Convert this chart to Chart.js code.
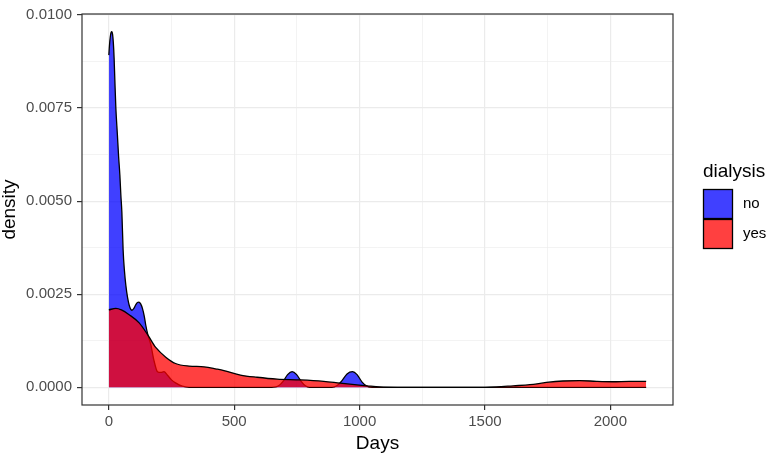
<!DOCTYPE html>
<html>
<head>
<meta charset="utf-8">
<script src="https://cdn.jsdelivr.net/npm/chart.js@4.4.1/dist/chart.umd.min.js"></script>
<style>
  html, body { margin: 0; padding: 0; background: #ffffff; }
  #wrap { width: 767px; height: 454px; position: relative; }
</style>
</head>
<body>
<div id="wrap"><canvas id="c" width="767" height="454"></canvas></div>
<script>
// ---- Data ----
const seriesLabels = ["no", "yes"];
const legendTitle = "dialysis";
const xTitle = "Days";
const yTitle = "density";

const noDays = [0, 3, 6, 9, 12, 15, 18, 21, 24, 28, 34, 39, 44, 48, 52, 57, 62, 68, 75, 81, 87, 92, 100, 107, 114, 120, 127, 134, 141, 147, 156, 167, 180, 194, 207, 220, 233, 250, 266, 293, 320, 400, 500, 600, 650, 665, 677, 695, 713, 731, 749, 767, 784, 800, 890, 909, 930, 950, 972, 990, 1010, 1029, 1050, 1200, 1500, 1800, 2143];
const noDensity = [0.00892, 0.00922, 0.00942, 0.00953, 0.00955, 0.00948, 0.00925, 0.00885, 0.00825, 0.00750, 0.00680, 0.00620, 0.00570, 0.00516, 0.00470, 0.00369, 0.00315, 0.00273, 0.00240, 0.00221, 0.00210, 0.00207, 0.00212, 0.00221, 0.00228, 0.00229, 0.00224, 0.00212, 0.00192, 0.00168, 0.00140, 0.00116, 0.00072, 0.00042, 0.00040, 0.00042, 0.00033, 0.00020, 0.00012, 0.00003, 0.00000, 0.00000, 0.00000, 0.00000, 0.00000, 0.00001, 0.00004, 0.00016, 0.00034, 0.00042, 0.00034, 0.00016, 0.00004, 0.00000, 0.00000, 0.00004, 0.00018, 0.00036, 0.00042, 0.00034, 0.00014, 0.00003, 0.00000, 0.00000, 0.00000, 0.00000, 0.00000];

const yesDays = [0, 28, 50, 81, 121, 156, 187, 227, 266, 320, 380, 430, 459, 525, 591, 671, 764, 857, 923, 980, 1029, 1080, 1150, 1300, 1500, 1546, 1613, 1679, 1745, 1811, 1878, 1945, 2010, 2076, 2143];
const yesDensity = [0.00208, 0.00212, 0.00208, 0.00195, 0.00173, 0.00140, 0.00107, 0.00081, 0.00064, 0.00057, 0.00055, 0.00049, 0.00045, 0.00033, 0.00027, 0.00022, 0.00020, 0.00016, 0.00011, 0.00007, 0.00004, 0.00001, 0.00000, 0.00000, 0.00000, 0.00001, 0.00004, 0.00007, 0.00013, 0.00017, 0.00018, 0.00016, 0.00015, 0.00016, 0.00016];

const xTickValues = [0, 250, 500, 750, 1000, 1250, 1500, 1750, 2000];
const xMajorTicks = [0, 500, 1000, 1500, 2000];
const yTickValues = [0, 0.00125, 0.0025, 0.00375, 0.005, 0.00625, 0.0075, 0.00875, 0.01];
const yMajorTicks = [0, 0.0025, 0.005, 0.0075, 0.01];

// ---- Styling ----
const fillColors = ["rgba(0,0,255,0.75)", "rgba(255,0,0,0.75)"];
const FONT = "'Liberation Sans', Arial, sans-serif";
const isMajor = (v, majors) => majors.some(m => Math.abs(m - v) < 1e-9);

const toPoints = (xs, ys) => xs.map((x, i) => ({ x: x, y: ys[i] }));

const panelLegend = {
  id: 'panelLegend',
  afterDraw(chart) {
    const { ctx, chartArea: a } = chart;
    ctx.save();
    ctx.strokeStyle = '#333333';
    ctx.lineWidth = 1.2;
    ctx.strokeRect(a.left, a.top, a.right - a.left, a.bottom - a.top);

    // legend
    ctx.fillStyle = '#000000';
    ctx.font = '19px ' + FONT;
    ctx.textAlign = 'left';
    ctx.textBaseline = 'alphabetic';
    ctx.fillText(legendTitle, 703, 177);
    const boxX = 703.5, boxY0 = 189.5, box = 29;
    seriesLabels.forEach((lab, i) => {
      const by = boxY0 + i * (box + 1);
      ctx.fillStyle = fillColors[i];
      ctx.fillRect(boxX, by, box, box);
      ctx.strokeStyle = '#000000';
      ctx.lineWidth = 1.3;
      ctx.strokeRect(boxX, by, box, box);
      ctx.fillStyle = '#000000';
      ctx.font = '15px ' + FONT;
      ctx.textBaseline = 'middle';
      ctx.fillText(lab, 743, by + box / 2);
    });
    ctx.restore();
  }
};

new Chart(document.getElementById('c'), {
  type: 'line',
  data: {
    datasets: [
      {
        label: seriesLabels[0],
        data: toPoints(noDays, noDensity),
        borderColor: '#000000',
        borderWidth: 1.3,
        backgroundColor: fillColors[0],
        fill: 'origin',
        pointRadius: 0,
        cubicInterpolationMode: 'monotone',
        order: 1
      },
      {
        label: seriesLabels[1],
        data: toPoints(yesDays, yesDensity),
        borderColor: '#000000',
        borderWidth: 1.3,
        backgroundColor: fillColors[1],
        fill: 'origin',
        pointRadius: 0,
        cubicInterpolationMode: 'monotone',
        order: 0
      }
    ]
  },
  options: {
    responsive: false,
    devicePixelRatio: 1,
    animation: false,
    layout: { padding: { left: 0, right: 94, top: 5, bottom: 0 } },
    plugins: { legend: { display: false }, tooltip: { enabled: false } },
    scales: {
      x: {
        type: 'linear',
        min: -107,
        max: 2250,
        afterBuildTicks: s => { s.ticks = xTickValues.map(v => ({ value: v })); },
        afterFit: s => { s.height = 49; },
        border: { display: false },
        grid: {
          color: '#EBEBEB',
          lineWidth: c => (c.tick && isMajor(c.tick.value, xMajorTicks)) ? 1.2 : 0.6,
          tickColor: c => (c.tick && isMajor(c.tick.value, xMajorTicks)) ? '#333333' : 'rgba(0,0,0,0)',
          tickLength: 5,
          tickWidth: 1.2
        },
        ticks: {
          autoSkip: false,
          maxRotation: 0,
          padding: 3,
          color: '#4D4D4D',
          font: { family: FONT, size: 15 },
          callback: v => isMajor(v, xMajorTicks) ? String(v) : ''
        },
        title: {
          display: true,
          text: xTitle,
          color: '#000000',
          font: { family: FONT, size: 19, lineHeight: 1 },
          padding: { top: 0, bottom: 1 }
        }
      },
      y: {
        type: 'linear',
        min: -0.000475,
        max: 0.010025,
        afterBuildTicks: s => { s.ticks = yTickValues.map(v => ({ value: v })); },
        afterFit: s => { s.width = 82; },
        border: { display: false },
        grid: {
          color: '#EBEBEB',
          lineWidth: c => (c.tick && isMajor(c.tick.value, yMajorTicks)) ? 1.2 : 0.6,
          tickColor: c => (c.tick && isMajor(c.tick.value, yMajorTicks)) ? '#333333' : 'rgba(0,0,0,0)',
          tickLength: 5,
          tickWidth: 1.2
        },
        ticks: {
          autoSkip: false,
          padding: 5,
          color: '#4D4D4D',
          font: { family: FONT, size: 15 },
          callback: v => isMajor(v, yMajorTicks) ? v.toFixed(4) : ''
        },
        title: {
          display: true,
          text: yTitle,
          color: '#000000',
          font: { family: FONT, size: 19, lineHeight: 1 },
          padding: { top: 0, bottom: 0 }
        }
      }
    }
  },
  plugins: [panelLegend]
});
</script>
</body>
</html>
